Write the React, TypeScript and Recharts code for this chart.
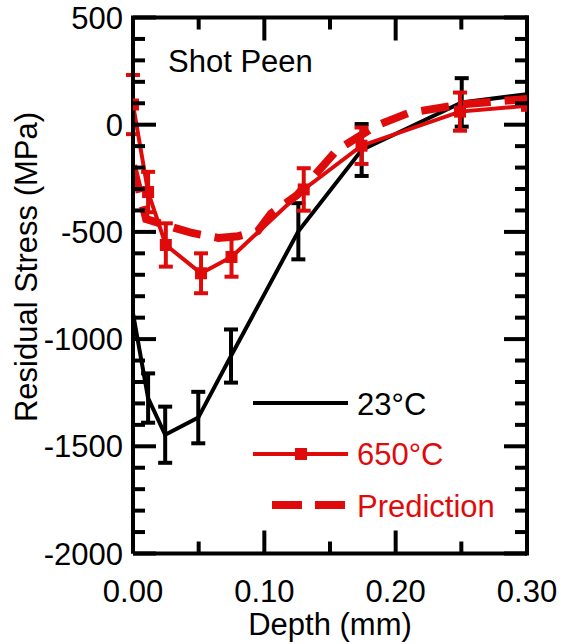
import React from 'react';
import { ComposedChart, Line, XAxis, YAxis, ErrorBar, ReferenceLine, Legend } from 'recharts';

// 23 °C measurements
const depth23 = [0, 0.0115, 0.0245, 0.0497, 0.0746, 0.1259, 0.1741, 0.2503, 0.3];
const stress23 = [-880, -1275, -1446, -1366, -1079, -497, -118, 104, 142];
const err23 = [null, 115, 131, 120, 124, 131, 121, 113, null];

// 650 °C measurements
const depth650 = [0, 0.0115, 0.025, 0.0518, 0.075, 0.13, 0.174, 0.249, 0.3];
const stress650 = [94, -314, -561, -693, -617, -302, -98, 61, 88];
const err650 = [138, 94, 101, 93, 92, 99, 85, 89, null];

// model prediction
const depthPred = [0, 0.01, 0.03, 0.045, 0.065, 0.08, 0.095, 0.105, 0.125, 0.155, 0.185, 0.21, 0.25, 0.3];
const stressPred = [-190, -440, -478, -505, -528, -520, -496, -415, -328, -120, -5, 55, 95, 120];

const xTicks = [0, 0.05, 0.1, 0.15, 0.2, 0.25, 0.3];
const xLabels = ['0.00', '', '0.10', '', '0.20', '', '0.30'];
const yTicks = [
  -2000, -1900, -1800, -1700, -1600, -1500, -1400, -1300, -1200, -1100, -1000, -900, -800,
  -700, -600, -500, -400, -300, -200, -100, 0, 100, 200, 300, 400, 500,
];
const yLabels: Record<number, string> = { '-2000': '-2000', '-1500': '-1500', '-1000': '-1000', '-500': '-500', 0: '0', 500: '500' };

const data23 = depth23.map((d, i) => ({ d, v: stress23[i], e: err23[i] }));
const data650 = depth650.map((d, i) => ({ d, v: stress650[i], e: err650[i] }));
const dataPred = depthPred.map((d, i) => ({ d, v: stressPred[i] }));

const RED = '#df0b0b';
const FONT = '"Liberation Sans", Arial, sans-serif';
const FS = 31;
const LW = 4;
const W = 561;
const H = 644;
// the axes take 1px each, so the plot spans x 133..527 and y 17.5..553.5
const margin = { top: 17.5, right: 34, bottom: 89.5, left: 132 };
const PLOT_W = 394;
const PLOT_H = 536;

const XTick = (props: any) => {
  const { x, y, index } = props;
  const label = xLabels[index];
  const len = label ? 23 : 12;
  return (
    <g>
      <line x1={x} y1={y} x2={x} y2={y - len} stroke="#000" strokeWidth={LW} />
      <line x1={x} y1={y - PLOT_H} x2={x} y2={y - PLOT_H + len} stroke="#000" strokeWidth={LW} />
      {label && (
        <text x={x} y={y + 48.5} textAnchor="middle" fontFamily={FONT} fontSize={FS} fill="#000">
          {label}
        </text>
      )}
    </g>
  );
};

const YTick = (props: any) => {
  const { x, y, payload } = props;
  const label = yLabels[payload.value];
  const len = label ? 23 : 12;
  return (
    <g>
      <line x1={x} y1={y} x2={x + len} y2={y} stroke="#000" strokeWidth={LW} />
      <line x1={x + PLOT_W} y1={y} x2={x + PLOT_W - len} y2={y} stroke="#000" strokeWidth={LW} />
      {label && (
        <text x={x - 10} y={y + 11} textAnchor="end" fontFamily={FONT} fontSize={FS} fill="#000">
          {label}
        </text>
      )}
    </g>
  );
};

const LegendBox = () => (
  <svg width={260} height={150} style={{ display: 'block' }}>
    <line x1={3} y1={23} x2={98} y2={23} stroke="#000" strokeWidth={LW} />
    <text x={107} y={35} fontFamily={FONT} fontSize={FS} fill="#000">23°C</text>
    <line x1={3} y1={74} x2={98} y2={74} stroke={RED} strokeWidth={LW} />
    <rect x={45} y={68} width={12} height={12} fill={RED} />
    <text x={107} y={85} fontFamily={FONT} fontSize={FS} fill={RED}>650°C</text>
    <line x1={22} y1={125} x2={95} y2={125} stroke={RED} strokeWidth={8} strokeDasharray="30 13" />
    <text x={107} y={136.7} fontFamily={FONT} fontSize={FS} fill={RED}>Prediction</text>
  </svg>
);

const square = (p: any) => (
  <rect key={`sq-${p.index}`} x={p.cx - 6} y={p.cy - 6} width={12} height={12} fill={RED} />
);

export default function App() {
  return (
    <div style={{ position: 'relative', width: W, height: H }}>
      {/* the figure fills the whole window, so drop the default body margin */}
      <style>{'body{margin:0}'}</style>
      <ComposedChart width={W} height={H} margin={margin}>
        <XAxis
          dataKey="d"
          type="number"
          domain={[0, 0.3]}
          ticks={xTicks}
          interval={0}
          height={1}
          tickSize={0}
          tickMargin={0}
          tickLine={false}
          tick={<XTick />}
          axisLine={{ stroke: '#000', strokeWidth: LW }}
          allowDataOverflow
        />
        <YAxis
          type="number"
          domain={[-2000, 500]}
          ticks={yTicks}
          interval={0}
          width={1}
          tickSize={0}
          tickMargin={0}
          tickLine={false}
          tick={<YTick />}
          axisLine={{ stroke: '#000', strokeWidth: LW }}
          allowDataOverflow
        />
        <ReferenceLine y={500} stroke="#000" strokeWidth={LW} strokeLinecap="square" />
        <ReferenceLine x={0.3} stroke="#000" strokeWidth={LW} strokeLinecap="square" />
        <Line data={data23} dataKey="v" stroke="#000" strokeWidth={LW} dot={false} activeDot={false} type="linear" isAnimationActive={false}>
          <ErrorBar dataKey="e" direction="y" width={7} stroke="#000" strokeWidth={LW} isAnimationActive={false} />
        </Line>
        <Line data={dataPred} dataKey="v" stroke={RED} strokeWidth={8} strokeDasharray="28 14" dot={false} activeDot={false} type="linear" isAnimationActive={false} />
        <Line data={data650} dataKey="v" stroke={RED} strokeWidth={LW} dot={square} activeDot={false} type="linear" isAnimationActive={false}>
          <ErrorBar dataKey="e" direction="y" width={7} stroke={RED} strokeWidth={LW} isAnimationActive={false} />
        </Line>
        <text x={168} y={72} fontFamily={FONT} fontSize={FS} fill="#000">Shot Peen</text>
        <text x={133 + PLOT_W / 2} y={635} textAnchor="middle" fontFamily={FONT} fontSize={FS} fill="#000">Depth (mm)</text>
        <text x={37} y={267} transform="rotate(-90 37 267)" textAnchor="middle" fontFamily={FONT} fontSize={FS} fill="#000">Residual Stress (MPa)</text>
        <Legend
          layout="vertical"
          align="center"
          verticalAlign="middle"
          content={<LegendBox />}
          wrapperStyle={{ left: 250, top: 380, width: 260, height: 150 }}
        />
      </ComposedChart>
    </div>
  );
}
